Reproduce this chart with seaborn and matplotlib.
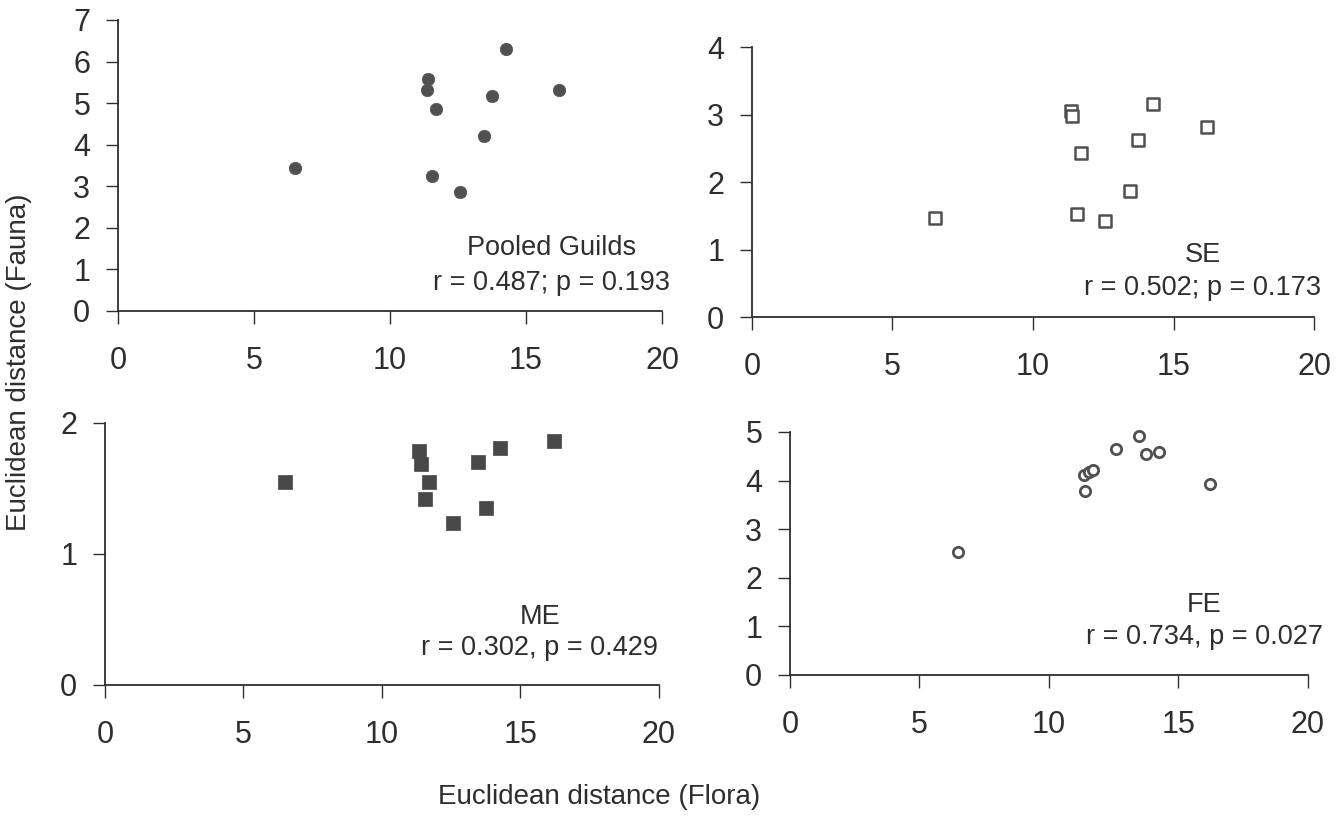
import matplotlib
matplotlib.use("Agg")
import matplotlib.pyplot as plt
import seaborn as sns
import pandas as pd

# Euclidean distances between sites: flora vs. fauna (per guild)
flora = [6.5, 11.35, 11.4, 11.55, 11.7, 12.57, 13.46, 13.75, 14.26, 16.2]
pooled = [3.45, 5.31, 5.58, 3.24, 4.86, 2.85, 4.20, 5.17, 6.30, 5.31]
se = [1.47, 3.05, 2.98, 1.53, 2.43, 1.42, 1.87, 2.62, 3.16, 2.81]
me = [1.55, 1.79, 1.69, 1.42, 1.55, 1.24, 1.70, 1.35, 1.81, 1.86]
fe = [2.53, 4.12, 3.79, 4.18, 4.22, 4.65, 4.92, 4.55, 4.59, 3.93]

panel_names = ["Pooled Guilds", "SE", "ME", "FE"]
panel_stats = ["r = 0.487; p = 0.193", "r = 0.502; p = 0.173",
               "r = 0.302, p = 0.429", "r = 0.734, p = 0.027"]
x_ticks = [0, 5, 10, 15, 20]
y_maxes = [7, 4, 2, 5]

sns.set_theme(style="ticks")
plt.rcParams["font.family"] = ["Liberation Sans", "DejaVu Sans"]

ink = "#2e2e2e"
fig = plt.figure(figsize=(13.44, 8.33), dpi=100)

# axes rectangles [left, bottom, width, height] in figure fractions
rects = [
    [0.0878, 0.6267, 0.4048, 0.3493],
    [0.5595, 0.6194, 0.4182, 0.3241],
    [0.0781, 0.1777, 0.4122, 0.3145],
    [0.5878, 0.1897, 0.3854, 0.2917],
]

series = [pooled, se, me, fe]
styles = [
    dict(marker="o", s=80, color="#505050", edgecolor="#505050", linewidth=0.5),
    dict(marker="s", s=70, color="white", edgecolor="#505050", linewidth=1.8),
    dict(marker="s", s=95, color="#484848", edgecolor="#484848", linewidth=0.5),
    dict(marker="o", s=55, color="white", edgecolor="#505050", linewidth=2.0),
]
# label positions in data coordinates: (x, y_name, y_stats)
label_pos = [(15.95, 1.52, 0.68), (16.05, 0.92, 0.43),
             (15.7, 0.52, 0.28), (16.0, 1.44, 0.78)]

for i in range(4):
    ax = fig.add_axes(rects[i])
    df = pd.DataFrame({"flora": flora, "fauna": series[i]})
    sns.scatterplot(data=df, x="flora", y="fauna", ax=ax, legend=False,
                    clip_on=False, zorder=3, **styles[i])
    ax.set_xlim(0, 20)
    ax.set_ylim(0, y_maxes[i])
    ax.set_xticks(x_ticks)
    ax.set_yticks(range(0, y_maxes[i] + 1))
    ax.set_xlabel("")
    ax.set_ylabel("")
    sns.despine(ax=ax)
    for sp in ("left", "bottom"):
        ax.spines[sp].set_color(ink)
        ax.spines[sp].set_linewidth(1.3)
    ax.tick_params(axis="x", direction="out", length=9, width=1.0, color=ink,
                   pad=16, labelsize=22, labelcolor=ink)
    ax.tick_params(axis="y", direction="out", length=9, width=1.0, color=ink,
                   pad=11, labelsize=22, labelcolor=ink)
    lx, ly1, ly2 = label_pos[i]
    ax.text(lx, ly1, panel_names[i], ha="center", va="center",
            fontsize=19.5, color=ink)
    ax.text(lx, ly2, panel_stats[i], ha="center", va="center",
            fontsize=19.5, color=ink)

fig.text(0.014, 0.565, "Euclidean distance (Fauna)", rotation=90,
         ha="center", va="center", fontsize=20, color=ink)
fig.text(0.446, 0.043, "Euclidean distance (Flora)",
         ha="center", va="center", fontsize=20, color=ink)

fig.savefig("out.png", dpi=100, facecolor="white")
